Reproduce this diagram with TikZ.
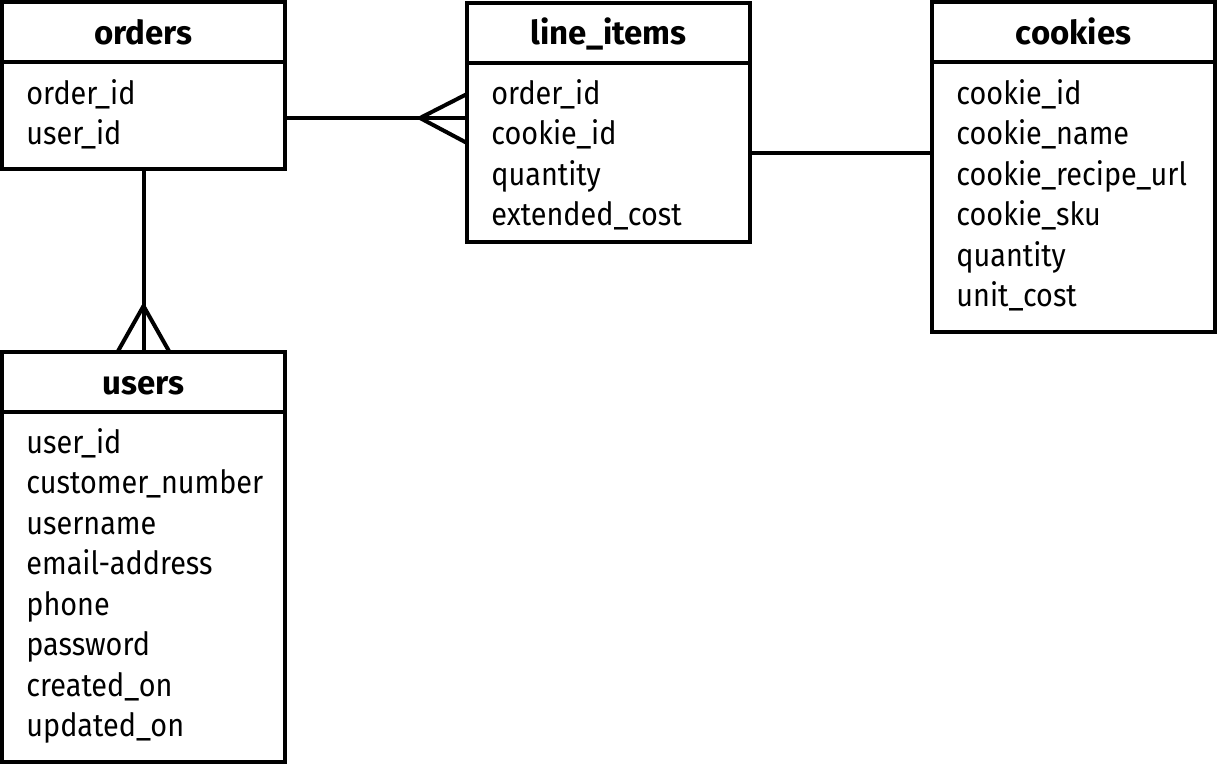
\documentclass[tikz,border=0pt]{standalone}
\usepackage{fontspec}
\setmainfont{Fira Sans}
\newfontfamily\fieldfont{Fira Sans}[FakeStretch=0.9]
\usetikzlibrary{calc}
\newcommand\erfields[3]{%
  \foreach \f [count=\i] in {#3} {%
    \node[field] (#1-f\i) at ($(#1.north west)+(24,{#2+40.5*(\i-1)})$) {\f};
  }%
}
\begin{document}
\begin{tikzpicture}[x=0.5pt,y=-0.5pt,
  box/.style={draw,line width=2pt,inner sep=0pt,outer sep=0pt,minimum width=141.5pt},
  divider/.style={line width=2pt},
  title/.style={font=\bfseries\fontsize{16.5}{18}\selectfont,anchor=base,inner sep=0pt},
  field/.style={font=\fieldfont\fontsize{16}{18}\selectfont,anchor=base west,inner sep=0pt},
  rel/.style={line width=2pt,line join=miter}]
\useasboundingbox (0,0) rectangle (1218,766);

% boxes
\node[box,minimum height=83.5pt] (orders) at (143.5,85.5) {};
\node[box,minimum height=119.5pt] (line_items) at (608.5,122.5) {};
\node[box,minimum height=165pt] (cookies) at (1073.5,167) {};
\node[box,minimum height=205pt] (users) at (143.5,557) {};

% header dividers
\foreach \b in {orders,line_items,cookies,users}
  \draw[divider] ($(\b.north west)+(0,60)$) -- ($(\b.north east)+(0,60)$);

% titles
\node[title] (orders-t) at ($(orders.north)+(0,42)$) {orders};
\node[title] (line_items-t) at ($(line_items.north)+(0,41)$) {line\_items};
\node[title] (cookies-t) at ($(cookies.north)+(0,42)$) {cookies};
\node[title] (users-t) at ($(users.north)+(0,42)$) {users};

% fields
\erfields{orders}{102}{order\_id,user\_id}
\erfields{line_items}{101}{order\_id,cookie\_id,quantity,extended\_cost}
\erfields{cookies}{102}{cookie\_id,cookie\_name,cookie\_recipe\_url,cookie\_sku,quantity,unit\_cost}
\erfields{users}{101}{user\_id,customer\_number,username,email-address,phone,password,created\_on,updated\_on}

% relationships
\draw[rel] ($(orders.north east)+(0,116)$) -- ($(line_items.north west)+(0,115)$);
\draw[rel] ($(line_items.north west)+(0,91)$) -- ($(line_items.north west)+(-47,115)$) -- ($(line_items.north west)+(0,140)$);

\draw[rel] ($(line_items.north east)+(0,150)$) -- ($(cookies.north west)+(0,151)$);

\draw[rel] (orders.south) -- (users.north);
\draw[rel] ($(users.north)+(-26,0)$) -- ($(users.north)+(0,-46)$) -- ($(users.north)+(26,0)$);
\end{tikzpicture}
\end{document}
